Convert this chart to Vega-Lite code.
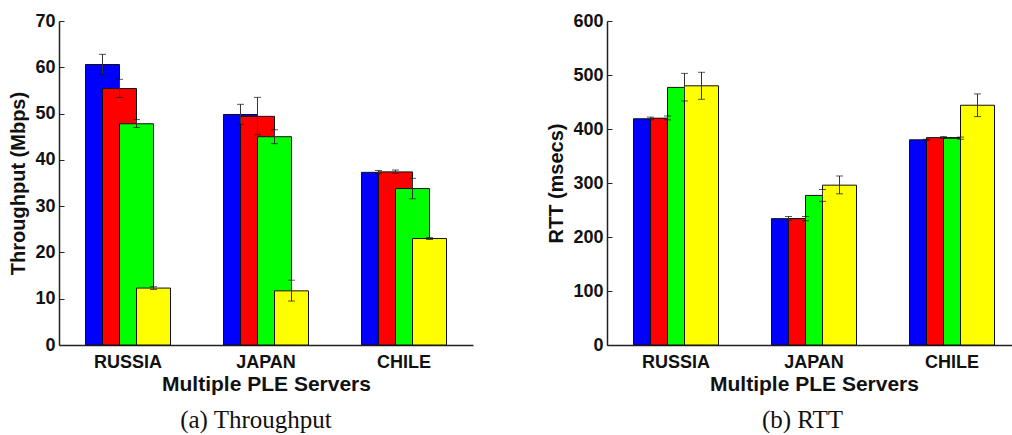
{
  "$schema": "https://vega.github.io/schema/vega-lite/v6.json",
  "background": "white",
  "padding": {"left": 8, "top": 12, "right": 0, "bottom": 0},
  "spacing": 73,
  "config": {
    "view": {"stroke": null},
    "font": "Liberation Sans",
    "axis": {
      "labelFont": "Liberation Sans", "labelFontWeight": "bold", "labelColor": "#111",
      "titleFont": "Liberation Sans", "titleFontWeight": "bold", "titleColor": "#111",
      "domainColor": "#222", "domainWidth": 1.5, "grid": false, "tickColor": "#222"
    }
  },
  "datasets": {
    "tp": [
      {"country": "RUSSIA", "series": "S1", "value": 60.6, "lo": 58.5, "hi": 62.8},
      {"country": "RUSSIA", "series": "S2", "value": 55.4, "lo": 53.5, "hi": 57.4},
      {"country": "RUSSIA", "series": "S3", "value": 47.8, "lo": 47.0, "hi": 48.7},
      {"country": "RUSSIA", "series": "S4", "value": 12.3, "lo": 12.0, "hi": 12.6},
      {"country": "JAPAN", "series": "S1", "value": 49.8, "lo": 47.7, "hi": 52.0},
      {"country": "JAPAN", "series": "S2", "value": 49.4, "lo": 45.4, "hi": 53.5},
      {"country": "JAPAN", "series": "S3", "value": 45.0, "lo": 43.5, "hi": 46.5},
      {"country": "JAPAN", "series": "S4", "value": 11.7, "lo": 9.5, "hi": 14.0},
      {"country": "CHILE", "series": "S1", "value": 37.3, "lo": 37.0, "hi": 37.7},
      {"country": "CHILE", "series": "S2", "value": 37.4, "lo": 37.1, "hi": 37.8},
      {"country": "CHILE", "series": "S3", "value": 33.8, "lo": 31.6, "hi": 36.0},
      {"country": "CHILE", "series": "S4", "value": 23.0, "lo": 22.8, "hi": 23.2}
    ],
    "rtt": [
      {"country": "RUSSIA", "series": "S1", "value": 419, "lo": 417, "hi": 422},
      {"country": "RUSSIA", "series": "S2", "value": 420, "lo": 417, "hi": 424},
      {"country": "RUSSIA", "series": "S3", "value": 477, "lo": 452, "hi": 503},
      {"country": "RUSSIA", "series": "S4", "value": 480, "lo": 455, "hi": 505},
      {"country": "JAPAN", "series": "S1", "value": 234, "lo": 231, "hi": 238},
      {"country": "JAPAN", "series": "S2", "value": 234, "lo": 230, "hi": 238},
      {"country": "JAPAN", "series": "S3", "value": 277, "lo": 266, "hi": 288},
      {"country": "JAPAN", "series": "S4", "value": 296, "lo": 280, "hi": 313},
      {"country": "CHILE", "series": "S1", "value": 380, "lo": 379, "hi": 381},
      {"country": "CHILE", "series": "S2", "value": 384, "lo": 383, "hi": 386},
      {"country": "CHILE", "series": "S3", "value": 383, "lo": 381, "hi": 385},
      {"country": "CHILE", "series": "S4", "value": 444, "lo": 423, "hi": 465}
    ]
  },
  "hconcat": [
    {
      "width": 414, "height": 324,
      "data": {"name": "tp"},
      "title": {"text": "(a) Throughput", "orient": "bottom", "anchor": "middle", "frame": "group", "font": "Liberation Serif", "fontSize": 25, "fontWeight": "normal", "color": "#111", "dx": -10, "offset": 14},
      "encoding": {
        "x": {"field": "country", "type": "nominal", "sort": ["RUSSIA", "JAPAN", "CHILE"],
              "scale": {"paddingInner": 0.507, "paddingOuter": 0.2535},
              "axis": {"labelAngle": 0, "ticks": false, "labelFontSize": 18, "labelPadding": 8, "title": "Multiple PLE Servers", "titleFontSize": 21, "titlePadding": 2}},
        "xOffset": {"field": "series", "type": "nominal", "sort": ["S1", "S2", "S3", "S4"], "scale": {"paddingInner": 0, "paddingOuter": 0}}
      },
      "layer": [
        {"mark": {"type": "bar", "width": 34, "stroke": "#111", "strokeWidth": 1},
         "encoding": {
           "y": {"field": "value", "type": "quantitative", "scale": {"domain": [0, 70]},
                 "axis": {"values": [0, 10, 20, 30, 40, 50, 60, 70], "tickSize": -5, "labelPadding": 9, "labelFontSize": 18, "title": "Throughput (Mbps)", "titleFontSize": 20, "titlePadding": 6}},
           "color": {"field": "series", "type": "nominal", "scale": {"domain": ["S1", "S2", "S3", "S4"], "range": ["#0000ff", "#ff0000", "#00ff00", "#ffff00"]}, "legend": null}
         }},
        {"mark": {"type": "rule", "color": "#333", "strokeWidth": 1},
         "encoding": {"y": {"field": "lo", "type": "quantitative"}, "y2": {"field": "hi"}}},
        {"mark": {"type": "tick", "color": "#111", "size": 7, "thickness": 1},
         "encoding": {"y": {"field": "lo", "type": "quantitative"}}},
        {"mark": {"type": "tick", "color": "#111", "size": 7, "thickness": 1},
         "encoding": {"y": {"field": "hi", "type": "quantitative"}}}
      ]
    },
    {
      "width": 403, "height": 324,
      "data": {"name": "rtt"},
      "title": {"text": "(b) RTT", "orient": "bottom", "anchor": "middle", "frame": "group", "font": "Liberation Serif", "fontSize": 25, "fontWeight": "normal", "color": "#111", "dx": -6, "offset": 14},
      "encoding": {
        "x": {"field": "country", "type": "nominal", "sort": ["RUSSIA", "JAPAN", "CHILE"],
              "scale": {"paddingInner": 0.507, "paddingOuter": 0.2535, "range": [0, 414]},
              "axis": {"labelAngle": 0, "ticks": false, "labelFontSize": 18, "labelPadding": 8, "title": "Multiple PLE Servers", "titleFontSize": 21, "titlePadding": 2}},
        "xOffset": {"field": "series", "type": "nominal", "sort": ["S1", "S2", "S3", "S4"], "scale": {"paddingInner": 0, "paddingOuter": 0}}
      },
      "layer": [
        {"mark": {"type": "bar", "width": 34, "stroke": "#111", "strokeWidth": 1},
         "encoding": {
           "y": {"field": "value", "type": "quantitative", "scale": {"domain": [0, 600]},
                 "axis": {"values": [0, 100, 200, 300, 400, 500, 600], "tickSize": -5, "labelPadding": 9, "labelFontSize": 18, "title": "RTT (msecs)", "titleFontSize": 20, "titlePadding": 6}},
           "color": {"field": "series", "type": "nominal", "scale": {"domain": ["S1", "S2", "S3", "S4"], "range": ["#0000ff", "#ff0000", "#00ff00", "#ffff00"]}, "legend": null}
         }},
        {"mark": {"type": "rule", "color": "#333", "strokeWidth": 1},
         "encoding": {"y": {"field": "lo", "type": "quantitative"}, "y2": {"field": "hi"}}},
        {"mark": {"type": "tick", "color": "#111", "size": 7, "thickness": 1},
         "encoding": {"y": {"field": "lo", "type": "quantitative"}}},
        {"mark": {"type": "tick", "color": "#111", "size": 7, "thickness": 1},
         "encoding": {"y": {"field": "hi", "type": "quantitative"}}}
      ]
    }
  ]
}
